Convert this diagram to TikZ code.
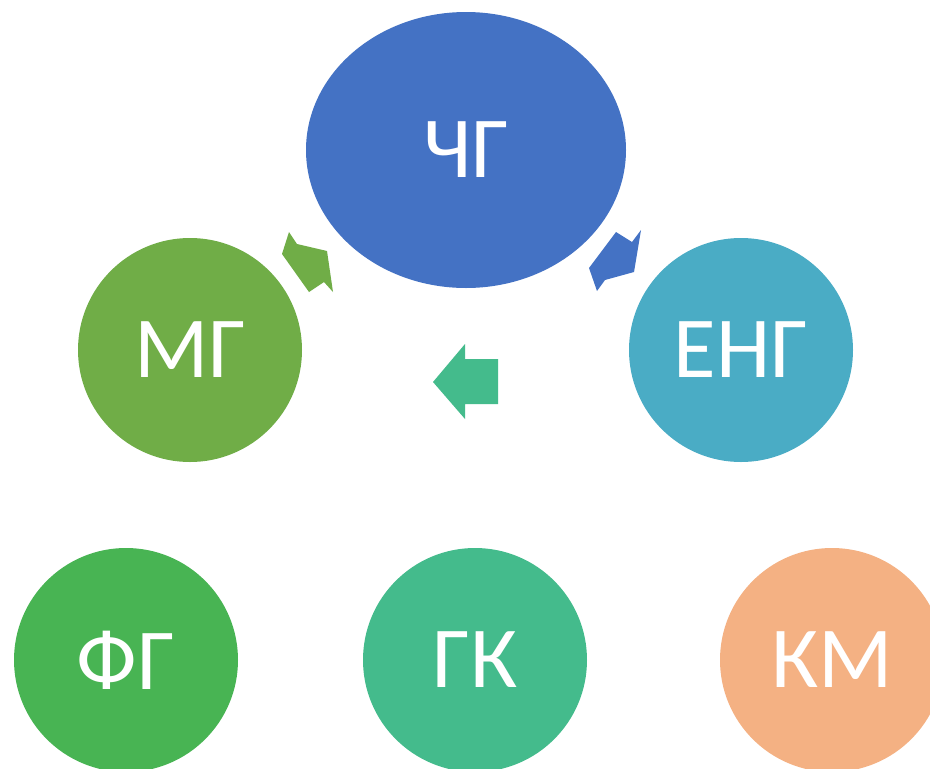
\documentclass[tikz,border=0pt]{standalone}
\usepackage{fontspec}
\setmainfont{Carlito}
\usetikzlibrary{shapes.geometric}
\definecolor{cblue}{HTML}{4472C4}
\definecolor{cgreen}{HTML}{70AD47}
\definecolor{cteal}{HTML}{4AACC5}
\definecolor{cfg}{HTML}{48B453}
\definecolor{cgk}{HTML}{44BB8C}
\definecolor{ckm}{HTML}{F4B183}
\tikzset{
  bubble/.style={circle, minimum size=224pt, inner sep=0pt, text=white,
    font=\fontsize{87}{90}\selectfont},
  bigoval/.style={ellipse, minimum width=320pt, minimum height=276pt, inner sep=0pt,
    text=white, font=\fontsize{87}{90}\selectfont},
  blockarrow/.style={draw=none}
}
\begin{document}
\begin{tikzpicture}[x=1pt,y=-1pt]
\clip (0,0) rectangle (930,769);
\fill[white] (0,0) rectangle (930,769);
\node[bigoval, fill=cblue] (chg) at (466,150) {ЧГ};
\node[bubble, fill=cgreen] (mg) at (190,350) {МГ};
\node[bubble, fill=cteal] (eng) at (741,350) {ЕНГ};
\node[bubble, fill=cfg] (fg) at (126,660) {ФГ};
\node[bubble, fill=cgk] (gk) at (475,660) {ГК};
\node[bubble, fill=ckm] (km) at (832,660) {КМ};
% block arrows
\fill[blockarrow, cgreen] (289,232) -- (297,244) -- (327,251) -- (333,292) -- (324,282) -- (309,292) -- (282,254) -- cycle;
\fill[blockarrow, cblue] (616,232) -- (632,242) -- (641,230) -- (634,272) -- (605,280) -- (597,291) -- (589,268) -- cycle;
\fill[blockarrow, cgk] (433,382) -- (465,344) -- (465,359) -- (498,359) -- (498,404) -- (465,404) -- (465,419) -- cycle;
\end{tikzpicture}
\end{document}
